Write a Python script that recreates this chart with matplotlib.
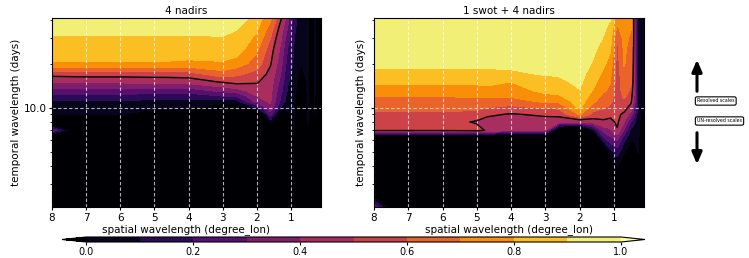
import numpy as np
from matplotlib import pyplot as plt
from matplotlib.ticker import FixedLocator, FormatStrFormatter, NullFormatter

# grid of the spectral score (one list per spatial wavelength, going down in period)
wavelength = [8, 7, 6, 5, 4.7, 4, 3, 2.6, 2, 1.6, 1.3, 1.1, 0.9, 0.7, 0.5, 0.4, 0.3, 0.12]
period = [41, 35, 30, 25, 20, 17, 15, 13, 12, 11, 10, 9, 8, 7, 6, 5, 4, 3, 2.1]

score_4nadirs = [
    [0.97, 0.93, 0.89, 0.86, 0.79, 0.54, 0.41, 0.25, 0.17, 0.08, 0.04, 0.02, -0.3, 0.3, -0.5, -0.5, -0.5, -0.5, -0.5],
    [0.97, 0.93, 0.89, 0.86, 0.79, 0.55, 0.42, 0.25, 0.17, 0.08, 0.04, 0.01, -0.3, -0.3, -0.5, -0.5, -0.5, -0.5, -0.5],
    [0.97, 0.93, 0.89, 0.86, 0.79, 0.55, 0.42, 0.25, 0.17, 0.08, 0.04, 0.01, -0.3, -0.5, -0.5, -0.5, -0.5, -0.5, -0.5],
    [0.97, 0.93, 0.89, 0.86, 0.79, 0.555, 0.43, 0.25, 0.16, 0.07, 0.03, -0.1, -0.4, -0.5, -0.5, -0.5, -0.5, -0.5, -0.5],
    [0.97, 0.93, 0.89, 0.86, 0.79, 0.555, 0.43, 0.25, 0.16, 0.07, 0.03, -0.1, -0.4, -0.5, -0.5, -0.5, -0.5, -0.5, -0.5],
    [0.97, 0.93, 0.89, 0.86, 0.78, 0.56, 0.44, 0.24, 0.15, 0.06, 0.02, -0.2, -0.5, -0.5, -0.5, -0.5, -0.5, -0.5, -0.5],
    [0.97, 0.93, 0.895, 0.86, 0.79, 0.66, 0.51, 0.32, 0.2, 0.05, -0.1, -0.5, -0.5, -0.5, -0.5, -0.5, -0.5, -0.5, -0.5],
    [0.96, 0.91, 0.87, 0.85, 0.76, 0.62, 0.54, 0.35, 0.2, 0.05, -0.1, -0.5, -0.5, -0.5, -0.5, -0.5, -0.5, -0.5, -0.5],
    [0.86, 0.82, 0.78, 0.72, 0.65, 0.57, 0.51, 0.45, 0.4, 0.35, 0.1, -0.3, -0.5, -0.5, -0.5, -0.5, -0.5, -0.5, -0.5],
    [0.72, 0.66, 0.6, 0.55, 0.51, 0.47, 0.45, 0.43, 0.42, 0.41, 0.38, 0.25, 0.05, -0.3, -0.5, -0.5, -0.5, -0.5, -0.5],
    [0.52, 0.46, 0.42, 0.38, 0.34, 0.3, 0.27, 0.23, 0.2, 0.18, 0.08, -0.1, -0.3, -0.5, -0.5, -0.5, -0.5, -0.5, -0.5],
    [0.35, 0.3, 0.25, 0.2, 0.16, 0.13, 0.11, 0.09, 0.07, 0.06, 0.04, -0.05, -0.3, -0.5, -0.5, -0.5, -0.5, -0.5, -0.5],
    [0.14, 0.12, 0.1, 0.09, 0.08, 0.07, 0.06, 0.05, 0.05, 0.04, 0.04, 0.03, 0.02, 0.01, -0.05, -0.2, -0.4, -0.5, -0.5],
    [0.04, 0.03, 0.02, 0.01, 0.0, -0.05, -0.1, -0.15, -0.2, -0.2, -0.2, -0.3, -0.4, -0.5, -0.5, -0.5, -0.5, -0.5, -0.5],
    [0.06, 0.06, 0.05, 0.05, 0.04, 0.04, 0.03, 0.03, 0.02, 0.02, 0.02, 0.01, 0.01, -0.05, -0.1, -0.3, -0.5, -0.5, -0.5],
    [-0.2, -0.2, -0.2, -0.2, -0.2, -0.2, -0.2, -0.2, -0.2, -0.2, -0.2, -0.2, -0.5, -0.5, -0.5, -0.5, -0.5, -0.5, -0.5],
    [0.03, 0.03, 0.03, 0.02, 0.02, 0.02, 0.02, 0.02, 0.01, 0.01, 0.01, 0.01, -0.1, -0.2, -0.3, -0.5, -0.5, -0.5, -0.5],
    [-0.3, -0.3, -0.3, -0.3, -0.3, -0.3, -0.3, -0.3, -0.3, -0.3, -0.3, -0.3, -0.3, -0.3, -0.3, -0.3, -0.3, -0.3, -0.3],
]

score_swot_4nadirs = [
    [0.97, 0.97, 0.96, 0.95, 0.93, 0.87, 0.83, 0.74, 0.705, 0.66, 0.63, 0.58, 0.54, 0.51, -0.5, -0.5, -0.5, -0.5, 0.3],
    [0.97, 0.97, 0.96, 0.95, 0.93, 0.87, 0.83, 0.74, 0.705, 0.66, 0.63, 0.58, 0.54, 0.51, -0.5, -0.5, -0.5, -0.5, -0.5],
    [0.97, 0.97, 0.96, 0.95, 0.93, 0.87, 0.83, 0.74, 0.705, 0.66, 0.63, 0.58, 0.54, 0.51, -0.5, -0.5, -0.5, -0.5, -0.5],
    [0.97, 0.97, 0.96, 0.95, 0.93, 0.87, 0.83, 0.74, 0.71, 0.67, 0.63, 0.56, 0.49, 0.53, -0.5, -0.5, -0.5, -0.5, -0.5],
    [0.97, 0.97, 0.96, 0.95, 0.93, 0.87, 0.84, 0.75, 0.71, 0.66, 0.6, 0.52, 0.46, 0.49, -0.5, -0.5, -0.5, -0.5, -0.5],
    [0.97, 0.97, 0.96, 0.95, 0.93, 0.88, 0.80, 0.76, 0.72, 0.64, 0.58, 0.49, 0.45, 0.44, -0.5, -0.5, -0.5, -0.5, -0.5],
    [0.97, 0.97, 0.96, 0.95, 0.94, 0.91, 0.86, 0.82, 0.78, 0.72, 0.61, 0.52, 0.45, 0.41, -0.5, -0.5, -0.5, -0.5, -0.5],
    [0.97, 0.97, 0.96, 0.95, 0.94, 0.91, 0.88, 0.83, 0.79, 0.72, 0.62, 0.53, 0.44, -0.2, -0.5, -0.5, -0.5, -0.5, -0.5],
    [0.97, 0.97, 0.96, 0.96, 0.95, 0.93, 0.92, 0.895, 0.87, 0.85, 0.82, 0.71, 0.42, -0.4, -0.5, -0.5, -0.5, -0.5, -0.5],
    [0.97, 0.96, 0.95, 0.92, 0.89, 0.86, 0.83, 0.79, 0.76, 0.72, 0.64, 0.57, 0.45, 0.05, -0.5, -0.5, -0.5, -0.5, -0.5],
    [0.95, 0.92, 0.895, 0.86, 0.82, 0.78, 0.74, 0.71, 0.67, 0.64, 0.61, 0.55, 0.48, 0.35, 0.15, -0.3, -0.5, -0.5, -0.5],
    [0.91, 0.87, 0.84, 0.81, 0.76, 0.72, 0.705, 0.68, 0.65, 0.62, 0.58, 0.53, 0.47, 0.38, 0.25, 0.05, -0.4, -0.5, -0.5],
    [0.75, 0.68, 0.61, 0.57, 0.56, 0.55, 0.55, 0.55, 0.54, 0.53, 0.52, 0.52, 0.52, 0.49, 0.3, 0.15, 0.02, -0.3, -0.5],
    [0.78, 0.76, 0.74, 0.72, 0.71, 0.68, 0.66, 0.64, 0.62, 0.58, 0.54, 0.48, 0.4, 0.28, 0.12, 0.02, -0.2, -0.5, -0.5],
    [0.72, 0.71, 0.68, 0.66, 0.64, 0.62, 0.61, 0.58, 0.55, 0.52, 0.46, 0.35, 0.2, 0.08, 0.02, -0.2, -0.5, -0.5, -0.5],
    [0.45, 0.45, 0.45, 0.45, 0.44, 0.43, 0.42, 0.4, 0.38, 0.35, 0.3, 0.22, 0.12, 0.05, 0.02, -0.2, -0.5, -0.5, -0.5],
    [0.1, 0.1, 0.1, 0.1, 0.1, 0.1, 0.1, 0.1, 0.1, 0.1, 0.08, 0.06, 0.04, 0.03, 0.02, 0.01, -0.1, -0.3, -0.4],
    [0.03, 0.03, 0.02, 0.02, 0.02, 0.02, 0.01, 0.01, 0.01, 0.01, 0.0, -0.05, -0.1, -0.1, -0.1, -0.2, -0.3, -0.4, -0.5],
]

titles = ["4 nadirs", "1 swot + 4 nadirs"]
levels = [0.0, 0.1, 0.2, 0.3, 0.4, 0.5, 0.6, 0.7, 0.8, 0.9, 1.0]
cbar_ticks = [0.0, 0.2, 0.4, 0.6, 0.8, 1.0]
xticks = [8, 7, 6, 5, 4, 3, 2, 1]

fig = plt.figure(figsize=(7.49, 2.58), dpi=100)
ax1 = fig.add_axes([0.0694, 0.1977, 0.3591, 0.7326])
ax2 = fig.add_axes([0.4993, 0.1977, 0.3605, 0.7326])

for ax, score, title in zip([ax1, ax2], [score_4nadirs, score_swot_4nadirs], titles):
    z = np.array(score).T
    cs = ax.contourf(wavelength, period, z, levels=levels, cmap='inferno', extend='both')
    ax.contour(wavelength, period, z, levels=[0.5], colors='k', linewidths=1)
    ax.set_yscale('log')
    ax.set_xlim(8, 0.12)
    ax.set_ylim(2.1, 41)
    ax.set_xticks(xticks)
    ax.yaxis.set_major_locator(FixedLocator([10]))
    ax.yaxis.set_major_formatter(FormatStrFormatter('%.1f'))
    ax.yaxis.set_minor_formatter(NullFormatter())
    ax.tick_params(which='major', labelsize=7.5, length=2.5, pad=1.5)
    ax.tick_params(which='minor', length=1.5)
    ax.grid(True, which='major', color='white', linestyle=(0, (3, 2)), alpha=0.7, linewidth=0.8)
    ax.set_title(title, fontsize=7.5, pad=3)
    ax.set_xlabel("spatial wavelength (degree_lon)", fontsize=7.5, labelpad=1)
    ax.set_ylabel("temporal wavelength (days)", fontsize=7.5, labelpad=2)

ax2.tick_params(labelleft=False)
ax2.set_ylabel("temporal wavelength (days)", fontsize=7.5, labelpad=1)

# colorbar en bas
cax = fig.add_axes([62 / 749, 1 - 242 / 258, 583 / 749, 5 / 258])
cb = fig.colorbar(cs, cax=cax, orientation='horizontal', ticks=cbar_ticks, format='%.1f', extendfrac=0.045)
cb.ax.tick_params(labelsize=7, length=2, pad=1.5)

# fleches resolved / un-resolved
ax2.annotate('', xy=(697 / 749, 1 - 57 / 258), xytext=(697 / 749, 1 - 94 / 258),
             xycoords='figure fraction', textcoords='figure fraction', annotation_clip=False,
             arrowprops=dict(arrowstyle='-|>,head_width=0.3,head_length=0.7', lw=2.2, color='k'))
ax2.annotate('', xy=(697 / 749, 1 - 167 / 258), xytext=(697 / 749, 1 - 130 / 258),
             xycoords='figure fraction', textcoords='figure fraction', annotation_clip=False,
             arrowprops=dict(arrowstyle='-|>,head_width=0.3,head_length=0.7', lw=2.2, color='k'))
box = dict(boxstyle='round,pad=0.35', fc='white', ec='black', lw=0.8)
fig.text(697 / 749, 1 - 101 / 258, "Resolved scales", fontsize=3.4, va='center', ha='left', bbox=box)
fig.text(697 / 749, 1 - 121 / 258, "UN-resolved scales", fontsize=3.4, va='center', ha='left', bbox=box)

plt.savefig('out.png', dpi=100)
